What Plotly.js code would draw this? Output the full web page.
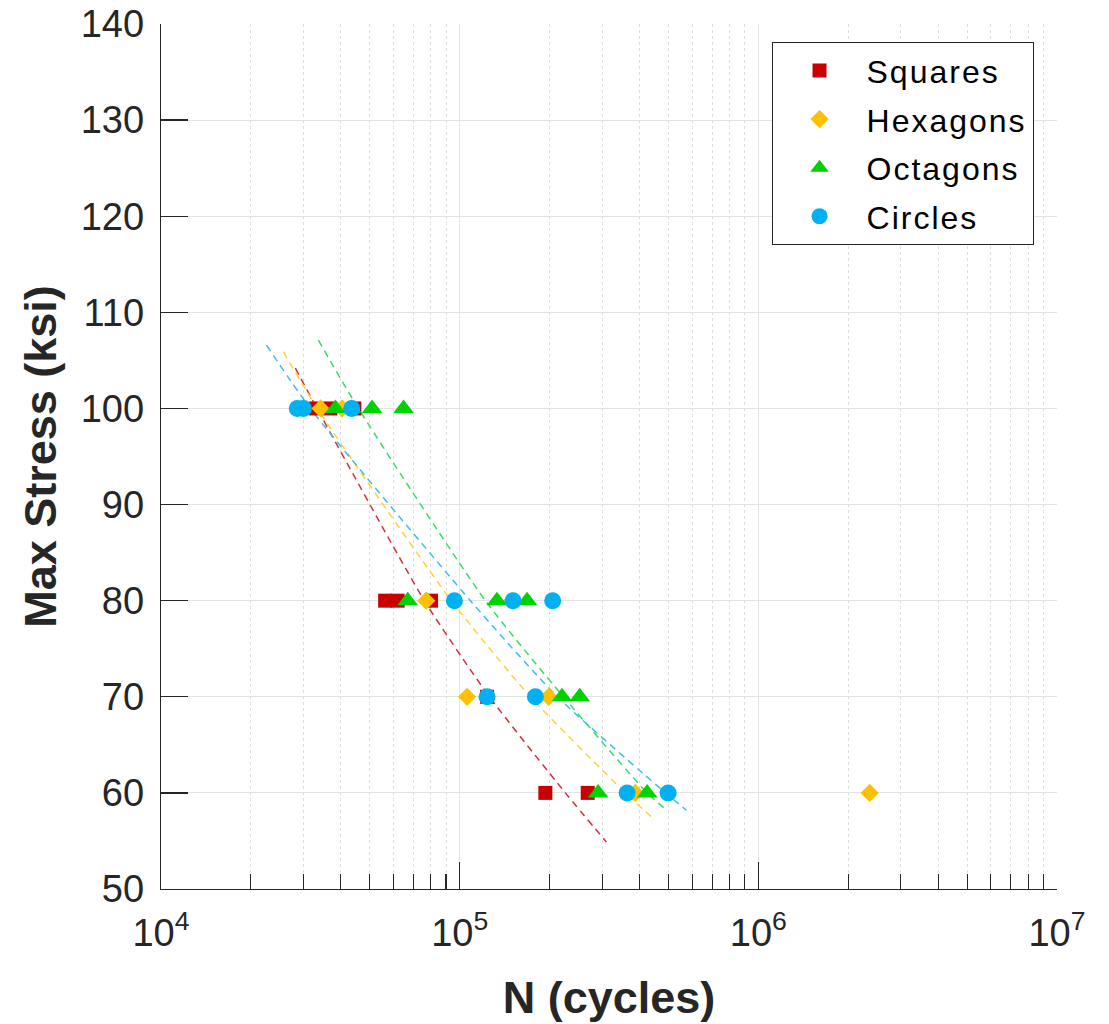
<!DOCTYPE html>
<html>
<head>
<meta charset="utf-8">
<script src="https://cdn.plot.ly/plotly-3.0.1.min.js"></script>
<style>
html,body{margin:0;padding:0;background:#fff;}
#chart{width:1109px;height:1024px;}
.legendtext{letter-spacing:2px;}
</style>
</head>
<body>
<div id="chart"></div>
<script>
// ---- data ----
const seriesNames = ['Squares', 'Hexagons', 'Octagons', 'Circles'];

const squaresN = [33000, 36900, 44400, 56300, 62000, 80200, 123500, 193600, 268400];
const squaresS = [100, 100, 100, 80, 80, 80, 70, 60, 60];

const hexagonsN = [34200, 40400, 77300, 149700, 105900, 198600, 387500, 2360000];
const hexagonsS = [100, 100, 80, 80, 70, 70, 60, 60];

const octagonsN = [38350, 43400, 50900, 64900, 67000, 133300, 168100, 220100, 252300, 290800, 424300];
const octagonsS = [100, 100, 100, 100, 80, 80, 80, 70, 70, 60, 60];

const circlesN = [28600, 30000, 43500, 96000, 150900, 204800, 123500, 179300, 363600, 498800];
const circlesS = [100, 100, 100, 80, 80, 80, 70, 70, 60, 60];

// fitted S-N curves
const squaresFitN = [28170, 33300, 76170, 125800, 225900, 309900];
const squaresFitS = [104.2, 100, 80, 70, 60, 54.9];
const hexagonsFitN = [25680, 33380, 93800, 172500, 358800, 441900];
const hexagonsFitS = [105.9, 100, 80, 70, 60, 57.4];
const octagonsFitN = [33640, 45800, 121900, 222500, 424300, 484800];
const octagonsFitS = [107.1, 100, 80, 70, 60, 58.4];
const circlesFitN = [22530, 31620, 108600, 212400, 488700, 574300];
const circlesFitS = [106.6, 100, 80, 70, 60, 58.2];

const xTickVals = [1e4, 1e5, 1e6, 1e7];
const xTickText = ['10<sup>4</sup>', '10<sup>5</sup>', '10<sup>6</sup>', '10<sup>7</sup>'];
const yTickVals = [50, 60, 70, 80, 90, 100, 110, 120, 130, 140];

// minor tick positions: 2..9 times each decade of the axis
const xMinorVals = [];
for (let d = 4; d < 7; d++) {
  for (let m = 2; m <= 9; m++) xMinorVals.push(m * Math.pow(10, d));
}

// ---- styles ----
const colors = ['#C80000', '#FFC000', '#00D200', '#00B0F0'];
const fitColors = ['#D2303C', '#FFD23C', '#3CDC64', '#3CBEF0'];
const symbols = ['square', 'diamond', 'triangle-up', 'circle'];
const sizes = [14, 14, 18, 17];

const pts = [[squaresN, squaresS], [hexagonsN, hexagonsS], [octagonsN, octagonsS], [circlesN, circlesS]];
const fits = [[squaresFitN, squaresFitS], [hexagonsFitN, hexagonsFitS], [octagonsFitN, octagonsFitS], [circlesFitN, circlesFitS]];

const traces = [];
fits.forEach((f, i) => {
  traces.push({
    x: f[0], y: f[1], type: 'scatter', mode: 'lines', showlegend: false, hoverinfo: 'skip',
    line: {color: fitColors[i], width: 1.5, dash: '7px,5px', shape: 'spline', smoothing: 0.6}
  });
});
pts.forEach((p, i) => {
  traces.push({
    x: p[0], y: p[1], type: 'scatter', mode: 'markers', name: seriesNames[i],
    legendgroup: 'g' + i,
    marker: {symbol: symbols[i], size: sizes[i], color: colors[i], line: {width: 0}}
  });
});

const axisCol = '#262626';
const layout = {
  width: 1109, height: 1024,
  margin: {l: 161, r: 52, t: 24, b: 135},
  paper_bgcolor: '#ffffff', plot_bgcolor: '#ffffff',
  font: {family: 'Liberation Sans, Arial, sans-serif', color: axisCol},
  xaxis: {
    type: 'log', range: [4, 7],
    tickmode: 'array', tickvals: xTickVals, ticktext: xTickText,
    ticks: 'inside', ticklen: 27, tickwidth: 1.3, tickcolor: axisCol,
    showline: true, linecolor: axisCol, linewidth: 1.3, mirror: false,
    showgrid: true, gridcolor: '#e3e3e3', gridwidth: 1,
    zeroline: false,
    tickfont: {size: 38, color: axisCol},
    ticklabelstandoff: 10,
    minor: {tickmode: 'array', tickvals: xMinorVals, ticks: 'inside', ticklen: 15, tickwidth: 1.1, tickcolor: axisCol,
            showgrid: true, gridcolor: '#dedede', gridwidth: 1, griddash: 'dot'},
    title: {text: '<b>N (cycles)</b>', font: {size: 45, color: axisCol}, standoff: 28}
  },
  yaxis: {
    range: [50, 140], tickmode: 'array', tickvals: yTickVals,
    ticks: 'inside', ticklen: 27, tickwidth: 1.3, tickcolor: axisCol,
    showline: true, linecolor: axisCol, linewidth: 1.3, mirror: false,
    showgrid: true, gridcolor: '#e3e3e3', gridwidth: 1,
    zeroline: false,
    tickfont: {size: 38, color: axisCol},
    ticklabelstandoff: 8,
    title: {text: '<b>Max Stress (ksi)</b>', font: {size: 45, color: axisCol}, standoff: 10}
  },
  legend: {
    x: 0.9738, xanchor: 'right', y: 0.979, yanchor: 'top',
    bgcolor: '#ffffff', bordercolor: axisCol, borderwidth: 1,
    font: {size: 32, color: '#000000'},
    traceorder: 'grouped', tracegroupgap: 4, itemwidth: 84
  },
  showlegend: true
};

Plotly.newPlot('chart', traces, layout, {displayModeBar: false, staticPlot: true});
</script>
</body>
</html>
